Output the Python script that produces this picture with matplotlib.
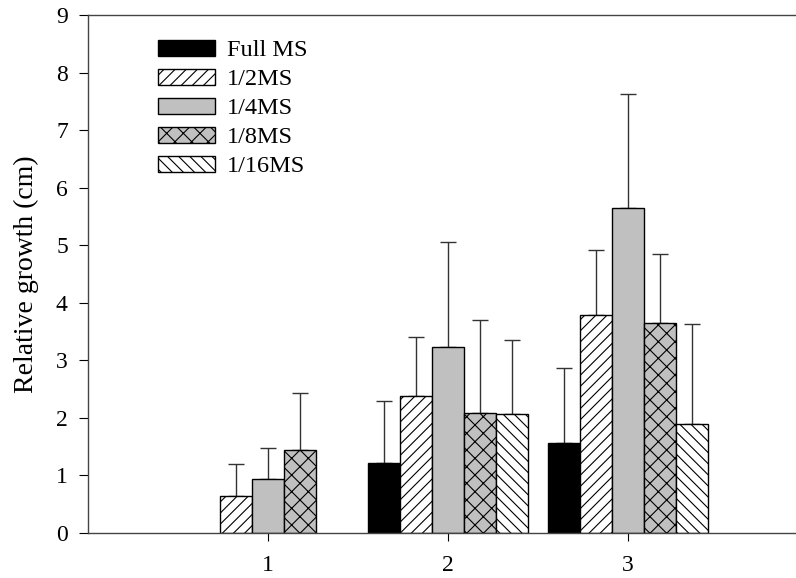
import matplotlib.pyplot as plt
import numpy as np

plt.rcParams['font.family'] = ['Liberation Serif', 'DejaVu Serif']
plt.rcParams['hatch.color'] = '#333333'
plt.rcParams['hatch.linewidth'] = 0.8

groups = [1, 2, 3]
series = ['Full MS', '1/2MS', '1/4MS', '1/8MS', '1/16MS']
means = {
    'Full MS': [0.0, 1.22, 1.57],
    '1/2MS': [0.65, 2.38, 3.78],
    '1/4MS': [0.94, 3.23, 5.64],
    '1/8MS': [1.44, 2.08, 3.65],
    '1/16MS': [0.0, 2.06, 1.90],
}
errors = {
    'Full MS': [0.0, 1.08, 1.30],
    '1/2MS': [0.55, 1.02, 1.14],
    '1/4MS': [0.53, 1.82, 1.98],
    '1/8MS': [0.99, 1.62, 1.19],
    '1/16MS': [0.0, 1.30, 1.73],
}
fills = ['black', 'white', '#c0c0c0', '#c0c0c0', 'white']
hatches = [None, '///', None, 'xx', '\\\\\\']

fig = plt.figure(figsize=(7.96, 5.78), dpi=100)
ax = fig.add_axes([88 / 796, 45 / 578, 720 / 796, 518 / 578])

w = 0.178
x = np.array(groups, dtype=float)
for i, s in enumerate(series):
    pos = x + (i - 2) * w
    vals = np.array(means[s])
    errs = np.array(errors[s])
    keep = vals > 0
    ax.bar(pos[keep], vals[keep], width=w, color=fills[i], hatch=hatches[i],
           edgecolor='black', linewidth=1.0, label=s, zorder=2)
    ax.errorbar(pos[keep], vals[keep], yerr=[np.zeros(keep.sum()), errs[keep]],
                fmt='none', ecolor='#333333', elinewidth=1.0, capsize=5.5,
                capthick=1.0, zorder=1)

ax.set_xlim(0, 4)
ax.set_ylim(0, 9)
ax.set_xticks(groups)
ax.set_yticks(range(10))
ax.tick_params(axis='x', direction='out', length=6, pad=10, labelsize=17)
ax.tick_params(axis='y', direction='out', length=6.5, pad=8, labelsize=17)
for sp in ax.spines.values():
    sp.set_color('#444444')
    sp.set_linewidth(1.0)
ax.set_ylabel('Relative growth (cm)', fontsize=20, labelpad=12)

leg = fig.legend(loc='upper left', bbox_to_anchor=(158 / 796, 1 - 40 / 578),
                 frameon=False, fontsize=17.5, handlelength=2.35, handleheight=0.62,
                 labelspacing=0.31, handletextpad=0.5, borderpad=0,
                 borderaxespad=0)

fig.savefig('out.png', dpi=100)
